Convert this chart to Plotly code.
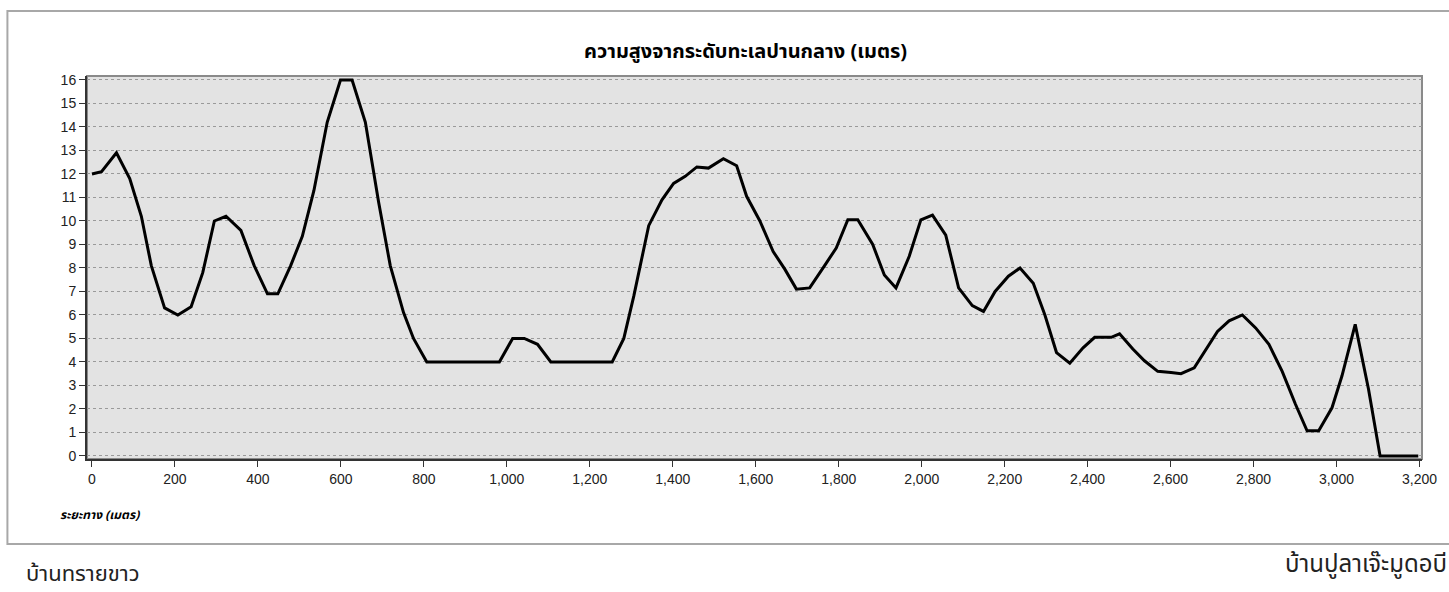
import plotly.graph_objects as go

distance_m = [0, 23, 59, 91, 119, 143, 175, 207, 239, 267, 295, 323, 359, 391, 423, 448, 479, 507, 535, 567,
              599, 627, 659, 691, 719, 751, 775, 807, 982, 1014, 1042, 1074, 1106, 1254, 1282, 1306, 1342, 1374, 1402, 1430,
              1458, 1486, 1522, 1554, 1578, 1610, 1642, 1670, 1698, 1730, 1766, 1794, 1822, 1846, 1882, 1910, 1938, 1970, 1998, 2026,
              2058, 2089, 2122, 2149, 2177, 2209, 2237, 2269, 2297, 2325, 2357, 2389, 2417, 2457, 2477, 2509, 2537, 2569, 2601, 2625,
              2657, 2681, 2713, 2741, 2773, 2805, 2837, 2869, 2901, 2929, 2957, 2989, 3013, 3045, 3077, 3105, 3197]
elevation_m = [12.0, 12.1, 12.9, 11.8, 10.2, 8.1, 6.3, 6.0, 6.35, 7.8, 10.0, 10.2, 9.6, 8.1, 6.9, 6.9, 8.1, 9.35, 11.3, 14.2,
               16.0, 16.0, 14.2, 10.8, 8.1, 6.1, 5.0, 4.0, 4.0, 5.0, 5.0, 4.75, 4.0, 4.0, 5.0, 6.8, 9.8, 10.9, 11.6, 11.9,
               12.3, 12.25, 12.65, 12.35, 11.05, 10.0, 8.7, 7.95, 7.1, 7.15, 8.1, 8.85, 10.05, 10.05, 9.0, 7.7, 7.15, 8.5, 10.05, 10.25,
               9.4, 7.15, 6.4, 6.15, 7.0, 7.65, 8.0, 7.35, 6.0, 4.4, 3.95, 4.6, 5.05, 5.05, 5.2, 4.55, 4.05, 3.6, 3.55, 3.5,
               3.75, 4.4, 5.3, 5.75, 6.0, 5.45, 4.75, 3.6, 2.2, 1.07, 1.07, 2.05, 3.4, 5.6, 2.85, 0.0, 0.0]
x_ticks = [0, 200, 400, 600, 800, 1000, 1200, 1400, 1600, 1800, 2000, 2200, 2400, 2600, 2800, 3000, 3200]
y_ticks = list(range(0, 17))

title_text = "ความสูงจากระดับทะเลปานกลาง (เมตร)"
x_title = "ระยะทาง (เมตร)"
left_place = "บ้านทรายขาว"
right_place = "บ้านปูลาเจ๊ะมูดอบี"

W, H = 1449, 592
L, R, T, B = 87, 1429, 76, 459
pw, ph = R - L, B - T

def px(x):
    return (x - L) / pw

def py(y):
    return (B - y) / ph

thai_font = "Tahoma, 'Noto Sans Thai', 'Loma', 'Garuda', 'Norasi', sans-serif"

fig = go.Figure()
fig.add_trace(go.Scatter(x=distance_m, y=elevation_m, mode="lines",
                         line=dict(color="black", width=3), hoverinfo="x+y", showlegend=False))

fig.update_layout(
    width=W, height=H,
    margin=dict(l=L, r=W - R, t=T, b=H - B),
    paper_bgcolor="white",
    plot_bgcolor="#e3e3e3",
    showlegend=False,
    font=dict(family="'Liberation Sans', Arial, sans-serif", size=14, color="#222"),
    xaxis=dict(range=[-12, 3206], tickvals=x_ticks, tickformat=",", ticks="outside", ticklen=6,
               tickcolor="#333", showgrid=False, zeroline=False, showline=True, linecolor="#333",
               linewidth=2, tickfont=dict(size=14, color="#222")),
    yaxis=dict(range=[-0.13, 16.17], tickvals=y_ticks, ticks="outside", ticklen=6, tickcolor="#333",
               showgrid=True, gridcolor="#9a9a9a", griddash="dot", gridwidth=1, zeroline=False,
               showline=True, linecolor="#333", linewidth=2, tickfont=dict(size=14, color="#222")),
    shapes=[
        dict(type="rect", xref="paper", yref="paper", x0=0, x1=1, y0=0, y1=1,
             line=dict(color="#8a8a8a", width=2), layer="below"),
        dict(type="rect", xref="paper", yref="paper", x0=px(7), x1=px(1460), y0=py(544), y1=py(11),
             line=dict(color="#a8a8a8", width=2), layer="below"),
    ],
    annotations=[
        dict(text="<b>" + title_text + "</b>", xref="paper", yref="paper", x=px(749), y=py(52),
             showarrow=False, xanchor="center", yanchor="middle",
             font=dict(family=thai_font, size=20, color="black")),
        dict(text="<b><i>" + x_title + "</i></b>", xref="paper", yref="paper", x=px(58), y=py(515),
             showarrow=False, xanchor="left", yanchor="middle",
             font=dict(family=thai_font, size=12, color="black")),
        dict(text=left_place, xref="paper", yref="paper", x=px(24), y=py(574),
             showarrow=False, xanchor="left", yanchor="middle",
             font=dict(family=thai_font, size=22, color="#222")),
        dict(text=right_place, xref="paper", yref="paper", x=px(1456), y=py(565),
             showarrow=False, xanchor="right", yanchor="middle",
             font=dict(family=thai_font, size=24, color="#222")),
    ],
)

fig.write_html("out.html", config={"displayModeBar": False},
               post_script="document.body.style.margin='0';document.body.style.padding='0';")
